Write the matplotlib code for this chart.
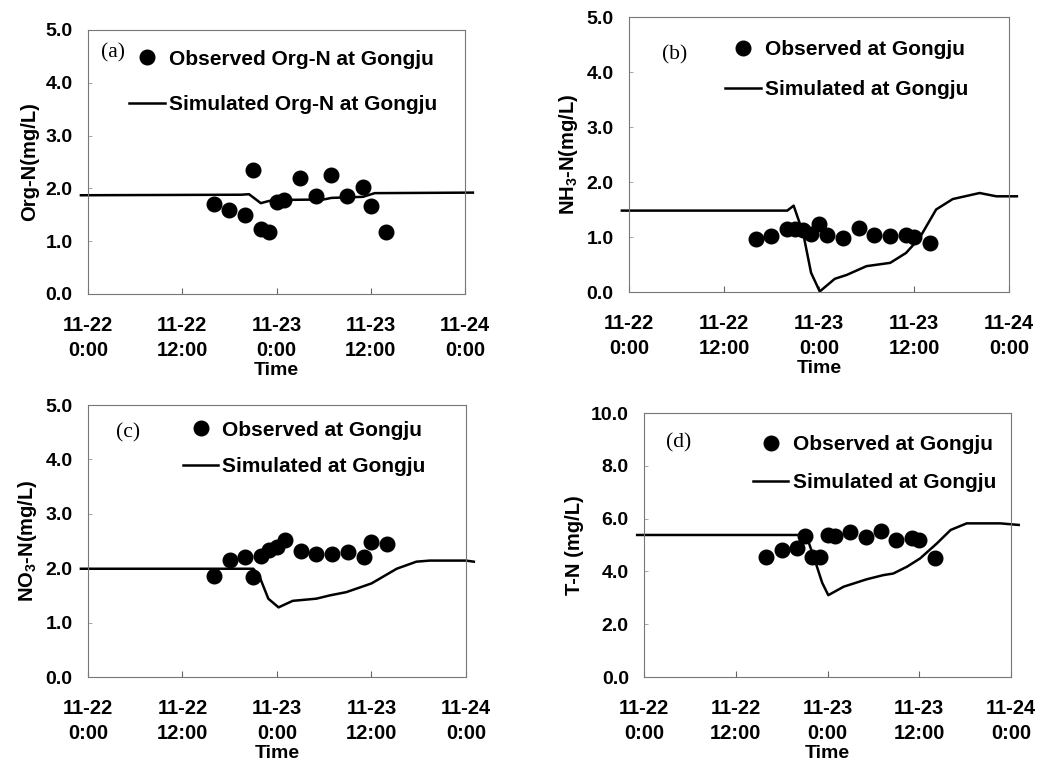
import matplotlib
matplotlib.use('Agg')
import matplotlib.pyplot as plt

plt.rcParams['font.family'] = ['Liberation Sans', 'DejaVu Sans']
plt.rcParams['font.weight'] = 'bold'
plt.rcParams['mathtext.default'] = 'regular'

# hours after 11-22 0:00
obs_hours = [16, 18, 20, 21, 22, 23, 24, 25, 27, 29, 31, 33, 35, 36, 38]

orgn_obs = [1.71, 1.60, 1.50, 2.34, 1.23, 1.17, 1.74, 1.78, 2.19, 1.86, 2.26, 1.86, 2.02, 1.67, 1.17]
nh3_obs = [0.96, 1.02, 1.15, 1.15, 1.12, 1.05, 1.24, 1.04, 0.98, 1.16, 1.04, 1.02, 1.04, 1.00, 0.89]
no3_obs = [1.86, 2.16, 2.21, 1.83, 2.22, 2.34, 2.39, 2.52, 2.32, 2.27, 2.26, 2.30, 2.21, 2.48, 2.44]
tn_obs = [4.56, 4.81, 4.87, 5.35, 4.56, 4.56, 5.38, 5.34, 5.51, 5.29, 5.54, 5.18, 5.28, 5.19, 4.49]

orgn_sim_h = [-0.9, 19.5, 20.5, 21.3, 22.0, 23.0, 24.0, 30.0, 31.0, 35.0, 36.5, 49.0]
orgn_sim = [1.87, 1.88, 1.89, 1.80, 1.72, 1.76, 1.78, 1.79, 1.82, 1.84, 1.91, 1.92]

nh3_sim_h = [-0.9, 20.0, 20.8, 22.0, 23.0, 24.1, 26.0, 27.5, 30.0, 33.0, 35.0, 36.7, 38.8, 40.9, 44.3, 46.4, 49.0]
nh3_sim = [1.48, 1.48, 1.57, 1.07, 0.35, 0.01, 0.24, 0.31, 0.47, 0.53, 0.71, 0.98, 1.50, 1.69, 1.80, 1.74, 1.74]

no3_sim_h = [-0.9, 21.0, 21.8, 22.9, 24.2, 26.0, 29.0, 30.7, 32.8, 36.0, 39.2, 41.7, 43.4, 48.0, 49.0]
no3_sim = [1.99, 1.99, 1.84, 1.44, 1.28, 1.40, 1.44, 1.50, 1.56, 1.72, 1.99, 2.12, 2.14, 2.14, 2.12]

tn_sim_h = [-0.9, 21.1, 21.5, 22.4, 23.3, 24.1, 26.1, 29.1, 31.3, 32.6, 34.4, 36.1, 38.3, 40.1, 42.2, 46.6, 49.0]
tn_sim = [5.38, 5.38, 5.13, 4.37, 3.57, 3.10, 3.42, 3.70, 3.86, 3.92, 4.18, 4.49, 5.06, 5.57, 5.82, 5.82, 5.76]

xticks = [0, 12, 24, 36, 48]
xtick_labels = ['11-22\n0:00', '11-22\n12:00', '11-23\n0:00', '11-23\n12:00', '11-24\n0:00']

panels = [
    # tag, ylabel, ymax, ystep, obs, sim_h, sim, obs label, sim label
    ('(a)', 'Org-N(mg/L)', 5.0, 1.0, orgn_obs, orgn_sim_h, orgn_sim,
     'Observed Org-N at Gongju', 'Simulated Org-N at Gongju'),
    ('(b)', 'NH$_3$-N(mg/L)', 5.0, 1.0, nh3_obs, nh3_sim_h, nh3_sim,
     'Observed at Gongju', 'Simulated at Gongju'),
    ('(c)', 'NO$_3$-N(mg/L)', 5.0, 1.0, no3_obs, no3_sim_h, no3_sim,
     'Observed at Gongju', 'Simulated at Gongju'),
    ('(d)', 'T-N (mg/L)', 10.0, 2.0, tn_obs, tn_sim_h, tn_sim,
     'Observed at Gongju', 'Simulated at Gongju'),
]

# layout per panel: axes rect, legend anchor, label spacing, tag position
rects = [[0.0842, 0.6147, 0.3608, 0.346],
         [0.6019, 0.6173, 0.3636, 0.3604],
         [0.0842, 0.1127, 0.3617, 0.3565],
         [0.6163, 0.1127, 0.3512, 0.346]]
leg_anchor = [(0.109, 0.925), (0.253, 0.915), (0.251, 0.942), (0.297, 0.917)]
leg_spacing = [1.25, 1.0, 0.85, 0.92]
tag_pos = [(0.066, 0.913), (0.121, 0.862), (0.106, 0.897), (0.095, 0.886)]

fig = plt.figure(figsize=(10.45, 7.63), dpi=100)

for i, (tag, ylab, ymax, ystep, obs, sim_h, sim, lab_o, lab_s) in enumerate(panels):
    ax = fig.add_axes(rects[i])
    ax.plot(sim_h, sim, color='black', lw=1.8, label=lab_s, clip_on=False, zorder=2)
    ax.plot(obs_hours, obs, 'o', color='black', markersize=10.5, label=lab_o, zorder=3)

    ax.set_xlim(0, 48)
    ax.set_ylim(0, ymax)
    ax.set_xticks(xticks)
    ax.set_xticklabels(xtick_labels, linespacing=1.4)
    yt = [ystep * k for k in range(int(round(ymax / ystep)) + 1)]
    ax.set_yticks(yt)
    ax.set_yticklabels(['%.1f' % v for v in yt])
    ax.tick_params(axis='x', direction='in', length=4, width=0.8, color='#666666',
                   pad=16, labelsize=14.5)
    ax.tick_params(axis='y', direction='in', length=3, width=0.6, color='#999999',
                   pad=11, labelsize=14)
    for s in ax.spines.values():
        s.set_color('#777777')
        s.set_linewidth(0.8)

    ax.set_xlabel('Time', fontsize=14, fontweight='bold', labelpad=1)
    ax.set_ylabel(ylab, fontsize=14.5, fontweight='bold', labelpad=5)

    ax.text(tag_pos[i][0], tag_pos[i][1], tag, transform=ax.transAxes,
            family='Liberation Serif', fontweight='normal', fontsize=15.5,
            ha='center', va='center')

    h, l = ax.get_legend_handles_labels()
    ax.legend([h[1], h[0]], [l[1], l[0]], loc='upper left', bbox_to_anchor=leg_anchor[i],
              frameon=False, borderpad=0, borderaxespad=0, handlelength=1.7,
              handletextpad=0.2, labelspacing=leg_spacing[i],
              prop={'size': 15, 'weight': 'bold'})

fig.savefig('out.png', dpi=100)
